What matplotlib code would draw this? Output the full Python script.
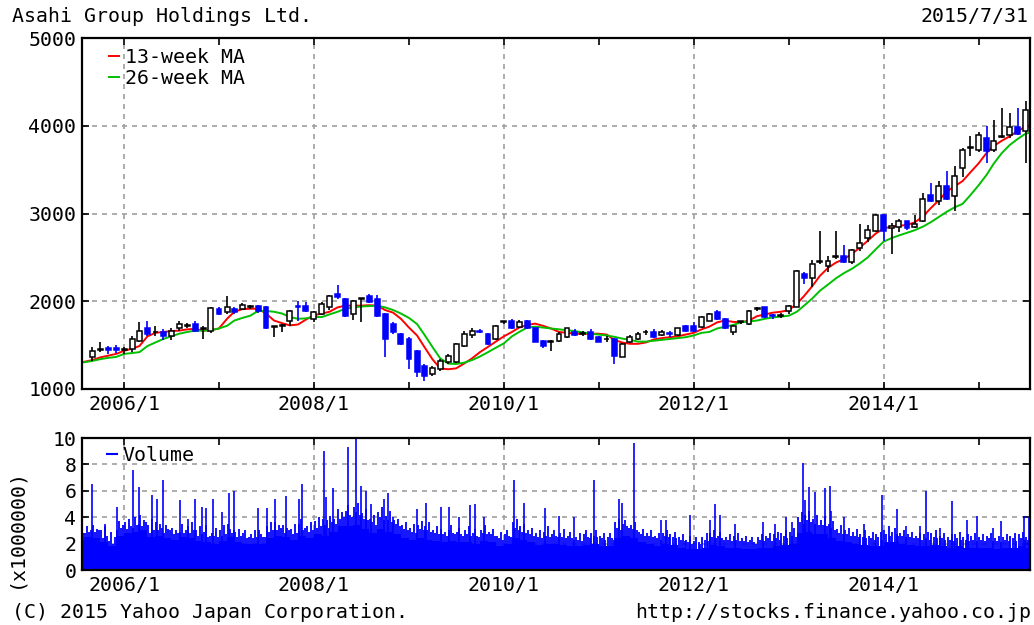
import numpy as np
import pandas as pd
import matplotlib
matplotlib.use('Agg')
import matplotlib.pyplot as plt
import matplotlib.dates as mdates
from matplotlib.lines import Line2D

plt.rcParams['font.family'] = 'DejaVu Sans Mono'
FS = 14.3
BLUE = '#0000ff'
RED = '#ff0000'
GREEN = '#00c000'
GRID = '#a0a0a0'

# ===== monthly candles 2005/9 - 2015/7 =====
candle_open = [1366, 1450, 1465, 1470, 1445, 1460, 1550, 1690, 1645, 1650,
               1600, 1690, 1720, 1740, 1685, 1660, 1915, 1880, 1915, 1915,
               1935, 1950, 1940, 1705, 1715, 1780, 1950, 1950, 1800, 1860,
               1940, 2080, 2030, 1860, 2025, 2060, 2030, 1860, 1740, 1630,
               1570, 1430, 1260, 1170, 1230, 1310, 1310, 1490, 1610, 1665,
               1630, 1570, 1760, 1780, 1710, 1780, 1690, 1550, 1535, 1550,
               1590, 1650, 1625, 1650, 1590, 1565, 1570, 1365, 1540, 1570,
               1645, 1650, 1610, 1640, 1610, 1720, 1720, 1710, 1780, 1880,
               1800, 1650, 1760, 1740, 1910, 1930, 1840, 1830, 1890, 1940,
               2310, 2260, 2445, 2400, 2505, 2510, 2450, 2610, 2720, 2800,
               2980, 2830, 2850, 2910, 2850, 2920, 3210, 3140, 3310, 3200,
               3515, 3745, 3720, 3860, 3720, 3875, 3890, 3990, 3940]
candle_high = [1480, 1537, 1490, 1500, 1480, 1600, 1765, 1780, 1720, 1680,
               1690, 1770, 1750, 1770, 1720, 1940, 1930, 2060, 1940, 1980,
               1960, 1960, 1950, 1720, 1740, 1900, 2000, 1990, 1890, 1990,
               2070, 2180, 2040, 2010, 2040, 2080, 2070, 1870, 1760, 1640,
               1590, 1440, 1280, 1260, 1340, 1400, 1520, 1660, 1700, 1680,
               1640, 1730, 1780, 1800, 1790, 1790, 1700, 1560, 1560, 1650,
               1700, 1680, 1660, 1680, 1600, 1600, 1580, 1520, 1610, 1650,
               1670, 1680, 1670, 1660, 1700, 1730, 1760, 1830, 1870, 1900,
               1810, 1730, 1780, 1900, 1930, 1940, 1860, 1870, 1960, 2360,
               2330, 2470, 2795, 2520, 2800, 2640, 2600, 2880, 2870, 3000,
               3000, 2890, 2940, 2920, 2980, 3230, 3350, 3370, 3480, 3540,
               3750, 3880, 3930, 4000, 4060, 4200, 4150, 4200, 4280]
candle_low = [1320, 1423, 1400, 1410, 1400, 1420, 1530, 1600, 1600, 1560,
              1560, 1660, 1690, 1650, 1570, 1640, 1840, 1860, 1860, 1900,
              1910, 1870, 1680, 1590, 1650, 1720, 1770, 1880, 1760, 1840,
              1900, 2030, 1820, 1790, 1765, 1980, 1820, 1370, 1630, 1500,
              1230, 1140, 1090, 1150, 1210, 1280, 1300, 1480, 1580, 1640,
              1500, 1560, 1740, 1680, 1700, 1680, 1530, 1470, 1430, 1540,
              1580, 1600, 1600, 1560, 1530, 1540, 1285, 1360, 1520, 1560,
              1620, 1580, 1600, 1590, 1600, 1650, 1650, 1700, 1770, 1790,
              1680, 1620, 1740, 1730, 1890, 1810, 1800, 1810, 1860, 1930,
              2200, 2160, 2420, 2330, 2480, 2440, 2430, 2570, 2680, 2790,
              2690, 2540, 2790, 2810, 2830, 2900, 3130, 3100, 3150, 3030,
              3420, 3650, 3700, 3580, 3700, 3860, 3860, 3900, 3570]
candle_close = [1438, 1460, 1440, 1445, 1455, 1570, 1660, 1630, 1655, 1600,
                1660, 1740, 1725, 1660, 1695, 1925, 1855, 1940, 1880, 1960,
                1945, 1890, 1690, 1715, 1725, 1890, 1930, 1890, 1880, 1970,
                2060, 2050, 1830, 2000, 2035, 1990, 1835, 1570, 1650, 1510,
                1340, 1190, 1150, 1240, 1320, 1380, 1510, 1630, 1660, 1650,
                1510, 1720, 1770, 1690, 1765, 1690, 1540, 1490, 1545, 1630,
                1690, 1610, 1635, 1570, 1540, 1575, 1380, 1515, 1590, 1630,
                1655, 1590, 1650, 1630, 1690, 1660, 1660, 1820, 1860, 1800,
                1690, 1720, 1770, 1890, 1920, 1820, 1830, 1840, 1950, 2350,
                2260, 2430, 2455, 2460, 2515, 2450, 2580, 2660, 2810, 2980,
                2800, 2860, 2910, 2830, 2880, 3170, 3140, 3310, 3170, 3430,
                3720, 3755, 3890, 3710, 3830, 3885, 3990, 3910, 4180]

# ===== moving averages, sampled monthly 2005/7 - 2015/8 =====
ma13 = [1300, 1310,
        1330, 1360, 1380, 1400, 1435, 1460, 1490, 1600, 1640, 1650,
        1660, 1665, 1680, 1685, 1665, 1670, 1690, 1800, 1880, 1910,
        1915, 1915, 1860, 1780, 1750, 1725, 1735, 1790, 1840, 1860,
        1880, 1930, 1950, 1950, 1950, 1955, 1950, 1900, 1870, 1800,
        1700, 1610, 1480, 1340, 1235, 1225, 1235, 1290, 1350, 1420,
        1480, 1540, 1600, 1650, 1700, 1730, 1745, 1720, 1690, 1650,
        1640, 1630, 1630, 1630, 1630, 1620, 1560, 1530, 1515, 1515,
        1530, 1565, 1580, 1590, 1600, 1620, 1640, 1680, 1710, 1760,
        1780, 1765, 1760, 1780, 1830, 1850, 1870, 1880, 1900, 1970,
        2060, 2170, 2290, 2380, 2440, 2480, 2540, 2610, 2690, 2770,
        2830, 2850, 2860, 2870, 2900, 2965, 3060, 3150, 3250, 3310,
        3370, 3470, 3570, 3690, 3770, 3830, 3880, 3940, 3990,
        4000]
ma26 = [1300, 1305,
        1320, 1340, 1355, 1365, 1400, 1410, 1420, 1490, 1530, 1570,
        1600, 1630, 1650, 1665, 1665, 1670, 1690, 1720, 1780, 1810,
        1835, 1890, 1890, 1880, 1860, 1820, 1800, 1805, 1820, 1820,
        1850, 1880, 1915, 1930, 1940, 1945, 1950, 1930, 1900, 1860,
        1810, 1740, 1620, 1480, 1350, 1290, 1285, 1300, 1330, 1370,
        1420, 1470, 1520, 1600, 1650, 1700, 1710, 1700, 1690, 1680,
        1670, 1660, 1645, 1630, 1620, 1610, 1595, 1575, 1560, 1540,
        1540, 1550, 1560, 1570, 1580, 1590, 1610, 1640, 1650, 1690,
        1710, 1730, 1760, 1770, 1780, 1800, 1815, 1825, 1835, 1880,
        1950, 2030, 2120, 2190, 2260, 2320, 2370, 2430, 2500, 2590,
        2680, 2720, 2750, 2780, 2810, 2850, 2900, 2960, 3020, 3070,
        3110, 3210, 3320, 3440, 3570, 3690, 3780, 3850, 3910,
        3930]

# ===== volume (x1000000), by month 2005/7 - 2015/7 =====
# lowest daily level of each month (solid part of the area)
vol_floor = [2.3, 2.5, 2.4, 2.1, 1.8, 2.6,
             2.8, 2.9, 3.0, 2.5, 2.6, 2.4, 2.3, 2.5, 2.4, 2.2, 2.1, 2.0,
             2.2, 2.5, 2.1, 2.0, 2.0, 2.0, 2.4, 2.6, 2.5, 2.3, 2.6, 2.4,
             2.7, 2.6, 2.9, 3.3, 3.3, 3.4, 3.1, 2.8, 3.1, 2.9, 2.7, 2.4,
             2.3, 2.4, 2.3, 2.2, 2.1, 2.2, 2.1, 2.1, 2.0, 2.2, 2.1, 1.8,
             2.0, 2.4, 2.3, 2.1, 1.9, 2.0, 2.0, 1.9, 1.8, 1.8, 1.9, 2.0,
             1.8, 1.8, 2.4, 2.6, 2.4, 2.1, 2.0, 1.8, 2.0, 1.9, 1.7, 1.6,
             1.6, 1.7, 1.9, 1.8, 1.7, 1.7, 1.6, 1.6, 1.7, 1.7, 1.8, 1.9,
             2.0, 2.8, 2.9, 2.7, 2.7, 2.4, 2.2, 2.1, 2.0, 1.9, 1.8, 1.8,
             2.1, 2.1, 2.0, 1.9, 1.8, 1.8, 1.9, 1.8, 1.7, 1.8, 1.7, 1.7,
             1.7, 1.7, 1.6, 1.7, 1.7, 1.8, 1.7]
# ordinary days: early, mid and late in the month, and month end
vol_early = [3.1, 2.8, 3.4, 3.0, 2.2, 3.0,
             3.6, 3.2, 4.2, 3.4, 3.6, 2.8, 3.2, 2.9, 3.3, 3.0, 2.9, 2.8,
             3.0, 3.5, 2.9, 2.8, 2.7, 3.0, 3.3, 3.6, 3.4, 3.1, 3.5, 3.3,
             3.7, 3.9, 4.1, 4.6, 4.5, 4.8, 4.3, 3.9, 4.4, 4.1, 3.8, 3.4,
             3.2, 3.4, 3.3, 3.0, 3.1, 3.0, 2.9, 3.0, 2.8, 3.0, 2.9, 2.6,
             2.7, 3.6, 3.3, 3.0, 2.8, 2.9, 2.7, 2.8, 2.6, 2.5, 2.7, 2.8,
             2.6, 2.5, 3.6, 3.5, 3.4, 2.9, 2.8, 2.6, 2.8, 2.7, 2.5, 2.3,
             2.2, 2.5, 2.8, 2.6, 2.5, 2.6, 2.4, 2.3, 2.5, 2.6, 2.7, 2.8,
             2.9, 4.0, 4.2, 3.9, 3.8, 3.5, 3.1, 3.0, 2.9, 2.7, 2.6, 2.7,
             3.0, 2.9, 2.8, 2.7, 2.6, 2.7, 2.8, 2.6, 2.5, 2.7, 2.5, 2.6,
             2.5, 2.6, 2.4, 2.5, 2.6, 2.7, 2.5]
vol_mid = [2.7, 3.3, 2.9, 2.4, 2.9, 3.7,
           3.1, 4.0, 3.3, 2.8, 3.0, 3.4, 2.7, 3.5, 2.8, 2.6, 3.4, 2.6,
           2.6, 3.1, 2.5, 3.0, 2.4, 2.7, 2.9, 3.0, 2.8, 2.7, 3.9, 2.9,
           3.2, 3.4, 3.6, 3.9, 4.9, 4.4, 3.9, 3.6, 4.0, 3.8, 3.5, 3.1,
           2.9, 3.1, 3.0, 2.8, 2.7, 3.4, 3.2, 2.7, 3.1, 2.8, 2.7, 2.4,
           3.0, 3.2, 2.9, 2.7, 2.5, 2.6, 3.0, 2.5, 2.9, 2.3, 3.0, 2.6,
           2.4, 2.8, 3.2, 3.8, 3.1, 2.7, 2.6, 2.4, 2.6, 2.5, 2.3, 2.1,
           2.5, 2.3, 2.5, 2.9, 2.3, 2.3, 2.2, 2.5, 2.3, 2.4, 2.4, 2.6,
           2.6, 3.6, 3.8, 3.5, 3.4, 3.2, 2.8, 2.7, 2.6, 2.5, 2.4, 2.5,
           2.7, 3.2, 2.6, 2.5, 2.4, 2.4, 2.5, 2.4, 2.3, 2.4, 2.3, 2.3,
           2.3, 2.4, 2.2, 2.3, 2.4, 2.4, 2.3]
vol_late = [3.0, 2.9, 3.1, 3.3, 2.0, 3.2,
            3.9, 3.4, 3.8, 3.9, 3.5, 3.1, 3.0, 2.8, 3.6, 3.3, 2.5, 3.2,
            3.4, 2.8, 3.1, 2.4, 3.0, 2.5, 3.6, 3.4, 3.2, 3.5, 3.0, 3.6,
            4.0, 3.8, 3.9, 4.4, 4.2, 5.1, 4.6, 4.2, 4.8, 4.5, 3.9, 3.6,
            3.5, 3.7, 3.6, 3.3, 2.9, 2.8, 2.7, 3.3, 2.6, 3.4, 3.1, 2.9,
            2.6, 3.9, 3.5, 3.2, 3.0, 3.3, 2.6, 3.1, 2.4, 2.8, 2.5, 3.0,
            2.8, 2.4, 3.9, 3.3, 3.6, 3.1, 3.0, 2.8, 3.0, 2.9, 2.7, 2.6,
            2.1, 2.8, 3.0, 2.4, 2.7, 2.8, 2.6, 2.1, 2.7, 2.8, 2.9, 3.0,
            3.2, 4.4, 4.5, 4.2, 4.1, 3.7, 3.4, 3.2, 3.1, 3.0, 2.9, 2.9,
            3.3, 2.7, 3.0, 2.9, 2.8, 2.9, 3.0, 2.8, 2.7, 2.9, 2.7, 2.8,
            2.7, 2.8, 2.6, 2.7, 2.8, 2.9, 2.7]
vol_end = [2.8, 3.0, 3.0, 2.6, 2.5, 3.4,
           3.3, 3.5, 3.6, 3.0, 3.2, 3.0, 2.8, 3.0, 3.0, 2.7, 2.6, 2.5,
           2.7, 3.0, 2.6, 2.5, 2.5, 2.5, 3.0, 3.2, 3.0, 2.8, 3.2, 3.0,
           3.3, 3.2, 3.5, 4.0, 4.0, 4.2, 3.8, 3.4, 3.8, 3.6, 3.3, 3.0,
           2.8, 3.0, 2.9, 2.7, 2.6, 2.7, 2.6, 2.6, 2.5, 2.7, 2.6, 2.3,
           2.5, 3.0, 2.8, 2.6, 2.4, 2.5, 2.5, 2.4, 2.3, 2.2, 2.4, 2.5,
           2.3, 2.3, 3.0, 3.2, 3.0, 2.6, 2.5, 2.3, 2.5, 2.4, 2.2, 2.0,
           2.0, 2.2, 2.4, 2.3, 2.2, 2.2, 2.1, 2.0, 2.2, 2.2, 2.3, 2.4,
           2.5, 3.5, 3.6, 3.4, 3.3, 3.0, 2.7, 2.6, 2.5, 2.4, 2.3, 2.3,
           2.6, 2.6, 2.5, 2.4, 2.3, 2.3, 2.4, 2.3, 2.2, 2.3, 2.2, 2.2,
           2.2, 2.2, 2.1, 2.2, 2.2, 2.3, 2.2]
# heavy trading days
spike_dates = ['2005-08-29', '2005-10-18', '2005-12-04', '2006-02-05', '2006-02-28',
               '2006-04-17', '2006-05-06', '2006-05-30', '2006-08-04', '2006-09-04',
               '2006-10-01', '2006-10-28', '2006-11-13', '2006-12-10', '2007-01-14',
               '2007-02-07', '2007-02-26', '2007-06-01', '2007-07-06', '2007-08-06',
               '2007-09-14', '2007-11-04', '2007-11-15', '2008-02-09', '2008-02-16',
               '2008-03-14', '2008-05-11', '2008-06-11', '2008-07-01', '2008-07-20',
               '2008-08-08', '2008-09-28', '2008-10-13', '2008-11-02', '2009-01-31',
               '2009-03-08', '2009-05-05', '2009-06-02', '2009-07-14', '2009-08-22',
               '2009-09-11', '2009-10-16', '2010-02-10', '2010-03-18', '2010-06-08',
               '2010-08-01', '2010-09-29', '2010-12-15', '2011-03-20', '2011-04-01',
               '2011-05-17', '2011-08-27', '2011-09-15', '2011-12-17', '2012-03-03',
               '2012-03-22', '2012-04-11', '2012-06-08', '2012-09-25', '2012-11-11',
               '2012-12-23', '2013-01-12', '2013-02-23', '2013-03-05', '2013-03-21',
               '2013-04-13', '2013-05-22', '2013-06-07', '2013-06-14', '2013-07-31',
               '2013-10-16', '2013-12-25', '2014-02-22', '2014-03-27', '2014-05-20',
               '2014-06-13', '2014-08-06', '2014-09-22', '2014-11-19', '2014-12-27',
               '2015-02-24', '2015-03-29', '2015-06-26', '2015-07-15']
spike_vols = [6.5, 3.5, 4.8, 7.6, 6.3, 5.7, 5.4, 6.8, 5.3, 3.9,
              5.4, 4.8, 4.7, 5.4, 4.4, 5.8, 6.0, 4.7, 4.7, 5.4,
              5.6, 5.4, 6.5, 9.0, 5.5, 6.2, 9.3, 10.0, 6.4, 6.0,
              5.0, 5.4, 5.8, 4.0, 4.6, 5.1, 4.8, 4.8, 4.0, 4.9,
              5.0, 4.0, 6.8, 5.1, 4.7, 4.1, 4.0, 6.8, 5.4, 5.1,
              9.6, 3.8, 3.8, 4.2, 3.8, 5.0, 4.2, 3.5, 3.6, 3.5,
              4.0, 3.6, 8.1, 5.3, 6.3, 5.9, 6.2, 6.4, 4.5, 4.0,
              3.5, 5.7, 4.6, 3.3, 3.3, 6.0, 3.2, 5.2, 3.8, 4.1,
              3.2, 3.7, 4.1, 4.0]

candle_dates = pd.date_range('2005-09-01', periods=len(candle_open), freq='MS')
ma_dates = pd.date_range('2005-07-01', periods=len(ma13), freq='MS')
vol_months = pd.date_range('2005-07-01', periods=len(vol_floor) + 1, freq='MS')
x_left, x_right = pd.Timestamp('2005-07-23'), pd.Timestamp('2015-07-18')


def year_month(x, pos):
    d = mdates.num2date(x)
    return f'{d.year}/{d.month}'


def style_axes(ax):
    ax.set_xlim(x_left, x_right)
    ax.xaxis.set_major_locator(mdates.YearLocator(2))
    ax.xaxis.set_minor_locator(mdates.YearLocator(1))
    ax.xaxis.set_major_formatter(plt.FuncFormatter(year_month))
    ax.tick_params(axis='both', which='both', direction='in', length=5, width=1.2,
                   top=True, right=True, labelsize=FS, pad=4, colors='black')
    ax.grid(True, which='major', color=GRID, linestyle=(0, (3, 3)), linewidth=1.2)
    for s in ax.spines.values():
        s.set_linewidth(1.6)


fig = plt.figure(figsize=(10.34, 6.25), dpi=100)
ax = fig.add_axes([0.0793, 0.3776, 0.9168, 0.5616])
axv = fig.add_axes([0.0793, 0.088, 0.9168, 0.2112])

# --- price panel ---
o = np.array(candle_open, float)
h = np.array(candle_high, float)
l = np.array(candle_low, float)
c = np.array(candle_close, float)
x = mdates.date2num(candle_dates)
up = c >= o
ax.plot(ma_dates, ma13, color=RED, lw=1.4, zorder=2, label='13-week MA')
ax.plot(ma_dates, ma26, color=GREEN, lw=1.4, zorder=2, label='26-week MA')
ax.vlines(x[up], l[up], h[up], colors='black', lw=1.2, zorder=3)
ax.vlines(x[~up], l[~up], h[~up], colors=BLUE, lw=1.2, zorder=3)
ax.bar(x[up], (c - o)[up], bottom=o[up], width=19, facecolor='white',
       edgecolor='black', lw=1.1, zorder=4)
ax.bar(x[~up], (o - c)[~up], bottom=c[~up], width=19, facecolor=BLUE,
       edgecolor=BLUE, lw=1.1, zorder=4)
ax.set_ylim(1000, 5000)
ax.set_yticks([1000, 2000, 3000, 4000, 5000])
style_axes(ax)
ax.legend(loc='upper left', bbox_to_anchor=(0.018, 1.0), frameon=False,
          fontsize=FS, handlelength=0.5, handletextpad=0.3,
          labelspacing=0.08, borderaxespad=0.1)

# --- volume panel ---
axv.fill_between(vol_months, vol_floor + [vol_floor[-1]], step='post',
                 color=BLUE, lw=0, zorder=2)
month_starts = vol_months[:-1]
for days, vals in [(3, vol_early), (11, vol_mid), (19, vol_late), (26, vol_end)]:
    axv.vlines(month_starts + pd.Timedelta(days=days), 0, vals, colors=BLUE, lw=1.3, zorder=2)
axv.vlines(pd.to_datetime(spike_dates), 0, spike_vols, colors=BLUE, lw=1.2, zorder=2)
axv.set_ylim(0, 10)
axv.set_yticks([0, 2, 4, 6, 8, 10])
style_axes(axv)
axv.legend(handles=[Line2D([], [], color=BLUE, lw=1.5, label='Volume')],
           loc='upper left', bbox_to_anchor=(0.018, 1.0), frameon=False,
           fontsize=FS, handlelength=0.5, handletextpad=0.3, borderaxespad=0.0)
fig.text(16 / 1034, 1 - 528 / 625, '(x1000000)', rotation=90,
         ha='center', va='center', fontsize=FS)

# --- header / footer ---
fig.text(12 / 1034, 1 - 17 / 625, 'Asahi Group Holdings Ltd.', ha='left', va='center', fontsize=FS)
fig.text(1029 / 1034, 1 - 17 / 625, '2015/7/31', ha='right', va='center', fontsize=FS)
fig.text(12 / 1034, 1 - 613 / 625, '(C) 2015 Yahoo Japan Corporation.', ha='left', va='center', fontsize=FS)
fig.text(1031 / 1034, 1 - 613 / 625, 'http://stocks.finance.yahoo.co.jp', ha='right', va='center', fontsize=FS)

fig.savefig('out.png', dpi=100, facecolor='white')
